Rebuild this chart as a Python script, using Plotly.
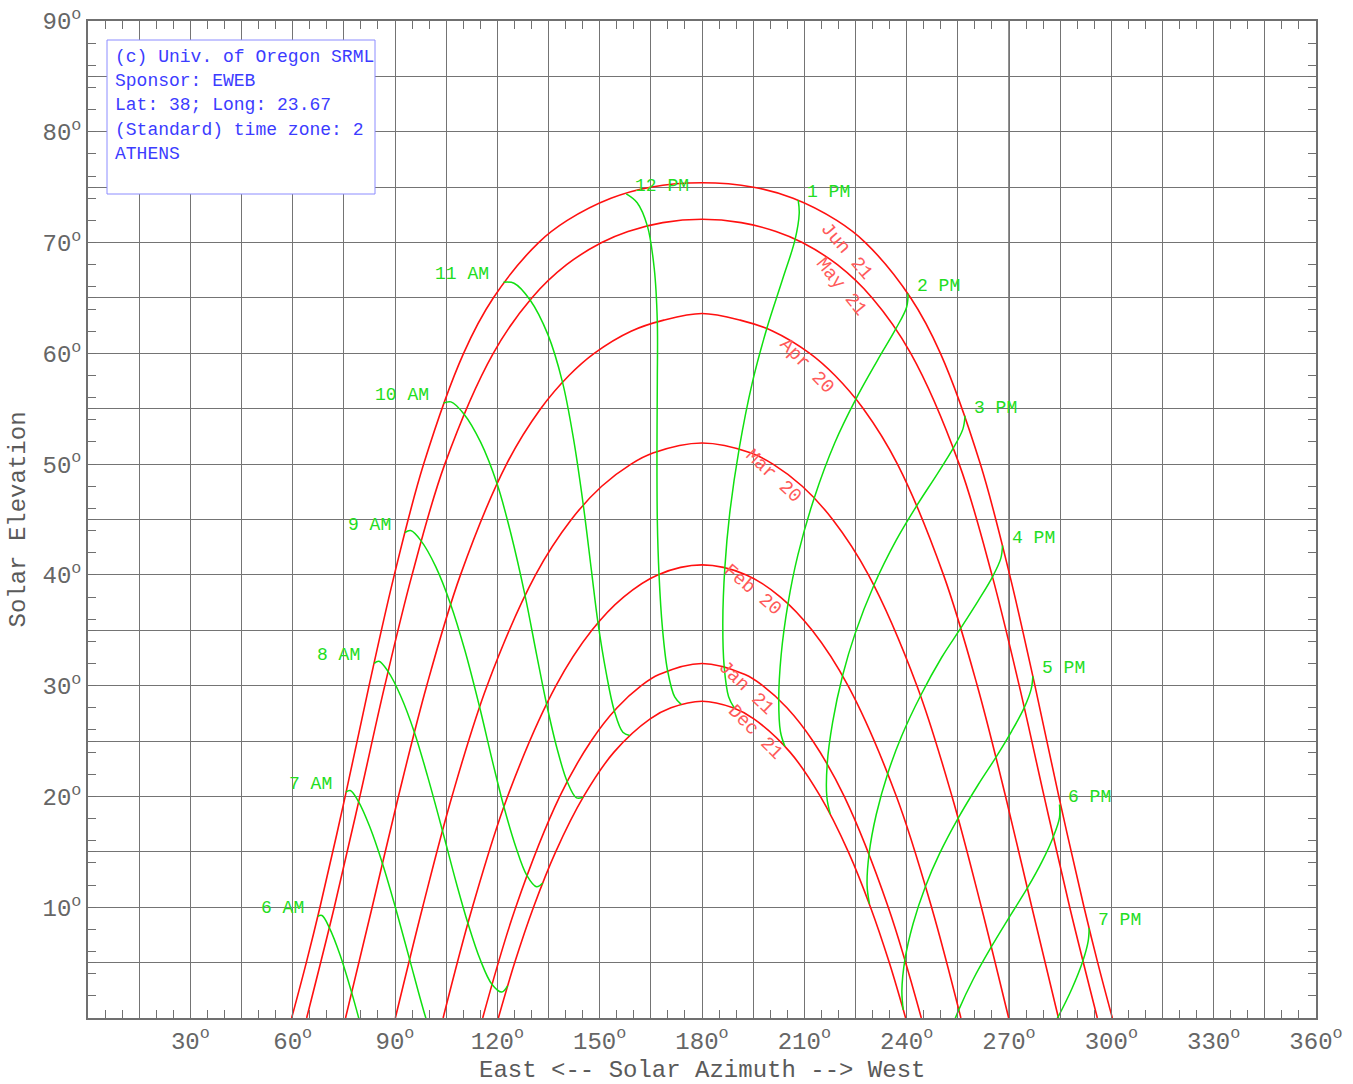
import plotly.graph_objects as go

# ---- Sun path chart data: solar azimuth (deg) / elevation (deg), lat 38, long 23.67 ----

DATE_LABELS = ["Jun 21", "May 21", "Apr 20", "Mar 20", "Feb 20", "Jan 21", "Dec 21"]

jun21_az = [59.7, 64.0, 68.0, 75.4, 82.4, 89.8, 98.4, 110.1, 118.8, 132.1, 140.5, 153.3, 164.9, 180.0,
            195.1, 206.7, 219.5, 227.9, 241.2, 249.9, 261.6, 270.2, 277.6, 284.6, 292.0, 296.0, 300.3]
jun21_el = [0, 5, 10, 20, 30, 40, 50, 60, 65, 70, 72, 74, 75, 75.4,
            75, 74, 72, 70, 65, 60, 50, 40, 30, 20, 10, 5, 0]

may21_az = [64.1, 72.2, 79.7, 87.0, 95.0, 104.6, 118.8, 130.1, 140.3, 150.6, 158.3, 168.5, 180.0,
            191.5, 201.7, 209.4, 219.7, 229.9, 241.2, 255.4, 265.0, 273.0, 280.3, 287.8, 295.9]
may21_el = [0, 10, 20, 30, 40, 50, 60, 65, 68, 70, 71, 71.8, 72.1,
            71.8, 71, 70, 68, 65, 60, 50, 40, 30, 20, 10, 0]

apr20_az = [75.5, 83.3, 91.0, 99.3, 109.2, 122.7, 132.7, 141.0, 148.4, 159.2, 168.8, 180.0,
            191.2, 200.8, 211.6, 219.0, 227.3, 237.3, 250.8, 260.7, 269.0, 276.7, 284.5]
apr20_el = [0, 10, 20, 30, 40, 50, 55, 58, 60, 62, 63, 63.6,
            63, 62, 60, 58, 55, 50, 40, 30, 20, 10, 0]

mar20_az = [90.1, 98.1, 106.7, 117.0, 131.2, 141.7, 150.6, 159.2, 165.6, 180.0,
            194.4, 200.8, 209.4, 218.3, 228.8, 243.0, 253.3, 261.9, 269.9]
mar20_el = [0, 10, 20, 30, 40, 45, 48, 50, 51, 51.9,
            51, 50, 48, 45, 40, 30, 20, 10, 0]

feb20_az = [104.1, 112.7, 123.0, 137.2, 147.7, 157.0, 167.0, 180.0,
            193.0, 203.0, 212.3, 222.8, 237.0, 247.3, 255.9]
feb20_el = [0, 10, 20, 30, 35, 38, 40, 40.9,
            40, 38, 35, 30, 20, 10, 0]

jan21_az = [115.7, 125.4, 138.3, 147.5, 155.1, 162.2, 167.4, 180.0,
            192.6, 197.8, 204.9, 212.5, 221.7, 234.6, 244.3]
jan21_el = [0, 10, 20, 25, 28, 30, 31, 32,
            31, 30, 28, 25, 20, 10, 0]

dec21_az = [120.3, 125.1, 130.6, 137.1, 145.3, 154.2, 164.8, 170.9, 180.0,
            189.1, 195.2, 205.8, 214.7, 222.9, 229.4, 234.9, 239.7]
dec21_el = [0, 5, 10, 15, 20, 24, 27, 28, 28.6,
            28, 27, 24, 20, 15, 10, 5, 0]

# label placement (az, el, rotation) for each date curve
date_label_az = [222.2, 220.8, 210.7, 200.8, 194.7, 192.9, 195.5]
date_label_el = [69.2, 66.0, 58.9, 48.9, 38.6, 29.8, 25.8]
date_label_rot = [49, 51, 46, 43, 40, 44, 45]

# Hour lines: sun position at a fixed clock time, Jun 21 -> Dec 21
HOUR_LABELS = ["6 AM", "7 AM", "8 AM", "9 AM", "10 AM", "11 AM", "12 PM",
               "1 PM", "2 PM", "3 PM", "4 PM", "5 PM", "6 PM", "7 PM"]

h6am_az = [67.4, 68.6, 70.8, 73.9, 77.3, 80.9]
h6am_el = [9.19, 9.25, 8.12, 5.69, 2.29, -1.77]

h7am_az = [75.6, 76.9, 79.3, 82.6, 86.3, 90.1, 94.3, 98.4, 101.9]
h7am_el = [20.40, 20.53, 19.53, 17.26, 13.97, 10.00, 5.27, 0.66, -2.78]

h8am_az = [83.9, 85.3, 88.0, 91.7, 95.7, 99.6, 103.9, 108.0, 111.4, 115.0, 118.4, 121.3, 123.0]
h8am_el = [32.01, 32.20, 31.27, 29.05, 25.78, 21.77, 16.93, 12.16, 8.53, 5.25, 3.05, 2.34, 2.90]

h9am_az = [92.9, 94.6, 97.7, 101.9, 106.3, 110.5, 114.8, 118.7, 121.9, 125.4, 128.6, 131.5, 133.3]
h9am_el = [43.82, 44.00, 43.05, 40.77, 37.36, 33.17, 28.07, 23.01, 19.09, 15.46, 12.90, 11.85, 12.19]

h10am_az = [104.2, 106.4, 110.2, 115.1, 119.9, 124.0, 128.1, 131.6, 134.4, 137.5, 140.5, 143.2, 145.1]
h10am_el = [55.50, 55.62, 54.53, 51.98, 48.24, 43.69, 38.17, 32.67, 28.39, 24.33, 21.33, 19.87, 19.93]

h11am_az = [121.8, 124.9, 129.6, 134.8, 139.1, 142.3, 145.2, 147.6, 149.5, 151.9, 154.3, 156.8, 158.8]
h11am_el = [66.42, 66.33, 64.82, 61.71, 57.40, 52.34, 46.31, 40.36, 35.69, 31.18, 27.72, 25.79, 25.51]

h12pm_az = [157.8, 161.0, 164.0, 166.0, 166.9, 166.9, 166.8, 166.9, 167.4, 168.4, 169.9, 172.0, 173.9]
h12pm_el = [74.40, 73.60, 71.48, 67.66, 62.84, 57.46, 51.16, 44.96, 40.05, 35.21, 31.37, 28.98, 28.31]

h1pm_az = [208.2, 208.5, 207.3, 203.6, 199.0, 194.7, 190.9, 188.1, 186.7, 186.1, 186.5, 187.8, 189.5]
h1pm_el = [73.83, 72.64, 70.29, 66.66, 62.24, 57.29, 51.40, 45.49, 40.66, 35.78, 31.74, 29.00, 27.97]

h2pm_az = [240.4, 240.0, 236.8, 231.4, 225.1, 218.9, 212.9, 208.1, 205.2, 203.2, 202.5, 203.0, 204.3]
h2pm_el = [65.39, 64.19, 62.20, 59.35, 55.87, 51.91, 46.95, 41.78, 37.39, 32.77, 28.77, 25.84, 24.52]

h3pm_az = [257.1, 256.5, 253.7, 248.9, 243.0, 236.9, 230.4, 224.9, 221.2, 218.3, 216.7, 216.6, 217.6]
h3pm_el = [54.37, 53.18, 51.46, 49.08, 46.27, 43.11, 39.06, 34.72, 30.89, 26.71, 22.92, 19.95, 18.42]

h4pm_az = [268.1, 267.6, 265.2, 261.0, 255.9, 250.2, 244.1, 238.5, 234.5, 231.1, 229.0, 228.4, 229.1]
h4pm_el = [42.65, 41.49, 39.85, 37.68, 35.21, 32.52, 29.11, 25.43, 22.12, 18.39, 14.87, 11.95, 10.30]

h5pm_az = [277.0, 276.5, 274.5, 270.8, 266.2, 261.0, 255.1, 249.6, 245.5, 241.9, 239.5, 238.6, 239.0]
h5pm_el = [30.86, 29.69, 28.04, 25.90, 23.55, 21.08, 18.04, 14.81, 11.88, 8.53, 5.29, 2.45, 0.73]

h6pm_az = [284.8, 284.8, 283.0, 279.7, 275.4, 270.5, 264.8, 259.4, 255.3, 251.4]
h6pm_el = [19.27, 18.09, 16.37, 14.14, 11.74, 9.31, 6.41, 3.43, 0.76, -2.31]

h7pm_az = [293.5, 293.2, 291.6, 288.5, 284.4, 279.7]
h7pm_el = [8.12, 6.92, 5.10, 2.69, 0.11, -2.45]

X_TICK_VALUES = [30, 60, 90, 120, 150, 180, 210, 240, 270, 300, 330, 360]
Y_TICK_VALUES = [10, 20, 30, 40, 50, 60, 70, 80, 90]

INFO_LINES = ["(c) Univ. of Oregon SRML", "Sponsor: EWEB", "Lat: 38; Long: 23.67",
              "(Standard) time zone: 2", "ATHENS"]

# ---- styling ----
RED = "#ff1010"
GREEN = "#10e010"
GRID = "#747474"
AXIS = "#707070"
LABEL_GRAY = "#666666"
MONO = "Liberation Mono, Courier New, monospace"

date_curves = [
    (jun21_az, jun21_el), (may21_az, may21_el), (apr20_az, apr20_el), (mar20_az, mar20_el),
    (feb20_az, feb20_el), (jan21_az, jan21_el), (dec21_az, dec21_el),
]
hour_curves = [
    (h6am_az, h6am_el), (h7am_az, h7am_el), (h8am_az, h8am_el), (h9am_az, h9am_el),
    (h10am_az, h10am_el), (h11am_az, h11am_el), (h12pm_az, h12pm_el), (h1pm_az, h1pm_el),
    (h2pm_az, h2pm_el), (h3pm_az, h3pm_el), (h4pm_az, h4pm_el), (h5pm_az, h5pm_el),
    (h6pm_az, h6pm_el), (h7pm_az, h7pm_el),
]

fig = go.Figure()

for name, (az, el) in zip(DATE_LABELS, date_curves):
    fig.add_trace(go.Scatter(
        x=az, y=el, mode="lines", name=name,
        line=dict(color=RED, width=1.6, shape="spline", smoothing=1.0),
        hoverinfo="skip", showlegend=False,
    ))

for name, (az, el) in zip(HOUR_LABELS, hour_curves):
    fig.add_trace(go.Scatter(
        x=az, y=el, mode="lines", name=name,
        line=dict(color=GREEN, width=1.5, shape="spline", smoothing=1.0),
        hoverinfo="skip", showlegend=False,
    ))

# empty trace that carries the overlaid fine-tick axes
fig.add_trace(go.Scatter(x=[None], y=[None], xaxis="x2", yaxis="y2", mode="lines",
                         hoverinfo="skip", showlegend=False))

annotations = []

# hour labels sit next to the Jun 21 end of each hour line
for name, (az, el) in zip(HOUR_LABELS, hour_curves):
    morning = name.endswith("AM")
    annotations.append(dict(
        x=az[0], y=el[0], xref="x", yref="y", text=name, showarrow=False,
        xanchor="right" if morning else "left", yanchor="middle",
        xshift=-12 if morning else 7, yshift=8,
        font=dict(family=MONO, size=18, color="#22dd22"),
    ))

# rotated date labels along the afternoon side of each curve
for name, lx, ly, rot in zip(DATE_LABELS, date_label_az, date_label_el, date_label_rot):
    annotations.append(dict(
        x=lx, y=ly, xref="x", yref="y", text=name, showarrow=False,
        textangle=rot, xanchor="center", yanchor="middle",
        font=dict(family=MONO, size=19, color="#ff5a5a"),
    ))

# info box text
plot_left, plot_right, plot_top, plot_bottom = 88, 1316, 21, 1018
pw, ph = plot_right - plot_left, plot_bottom - plot_top
line_y = [57, 81, 105, 130, 154]
for txt, yy in zip(INFO_LINES, line_y):
    annotations.append(dict(
        x=(113 - plot_left) / pw, y=(plot_bottom - yy) / ph, xref="paper", yref="paper",
        text=txt, showarrow=False, xanchor="left", yanchor="middle",
        font=dict(family=MONO, size=18, color="#3c3cff"),
    ))

# axis titles
annotations.append(dict(
    x=0.5, y=-(1070 - plot_bottom) / ph, xref="paper", yref="paper",
    text="East <-- Solar Azimuth --> West", showarrow=False,
    xanchor="center", yanchor="middle",
    font=dict(family=MONO, size=24, color="#5a5a5a"),
))
annotations.append(dict(
    x=-(plot_left - 18) / pw, y=0.5, xref="paper", yref="paper",
    text="Solar Elevation", showarrow=False, textangle=-90,
    xanchor="center", yanchor="middle",
    font=dict(family=MONO, size=24, color="#5a5a5a"),
))

shapes = [
    # darker meridian line at due west
    dict(type="line", xref="x", yref="paper", x0=270, x1=270, y0=0, y1=1,
         line=dict(color="#222222", width=1), layer="below"),
    # info box
    dict(type="rect", xref="paper", yref="paper",
         x0=(107 - plot_left) / pw, x1=(375 - plot_left) / pw,
         y0=(plot_bottom - 194) / ph, y1=(plot_bottom - 40) / ph,
         line=dict(color="#8c8cff", width=1), fillcolor="white", layer="above"),
]

# main axes: labelled ticks with grid, plus an unlabelled minor grid half way between
main_axis = dict(
    tickmode="array", showgrid=True, gridcolor=GRID, gridwidth=1.3, zeroline=False,
    ticks="inside", ticklen=8, tickwidth=1.3, tickcolor=AXIS,
    showline=True, linecolor=AXIS, linewidth=1.5, mirror="allticks",
    tickfont=dict(family=MONO, size=24, color=LABEL_GRAY),
    automargin=False,
)
# overlaid axes that only draw the fine tick marks
fine_axis = dict(
    tickmode="linear", tick0=0, showgrid=False, zeroline=False, showline=False,
    ticks="inside", ticklen=8, tickwidth=1.3, tickcolor=AXIS, mirror="allticks",
    showticklabels=False, automargin=False, fixedrange=True,
)

fig.update_layout(
    width=1353, height=1084,
    margin=dict(l=plot_left, r=1353 - plot_right, t=plot_top, b=1084 - plot_bottom),
    paper_bgcolor="white", plot_bgcolor="white",
    showlegend=False,
    annotations=annotations,
    shapes=shapes,
    xaxis=dict(
        range=[0, 360], tickvals=X_TICK_VALUES,
        ticktext=[f"{v}<sup>o</sup>" for v in X_TICK_VALUES],
        minor=dict(tickmode="linear", tick0=15, dtick=30, ticks="inside", ticklen=8,
                   tickwidth=1.3, tickcolor=AXIS, showgrid=True, gridcolor=GRID, gridwidth=1.3),
        **main_axis,
    ),
    yaxis=dict(
        range=[0, 90], tickvals=Y_TICK_VALUES,
        ticktext=[f"{v}<sup>o</sup>" for v in Y_TICK_VALUES],
        minor=dict(tickmode="linear", tick0=5, dtick=10, ticks="inside", ticklen=8,
                   tickwidth=1.3, tickcolor=AXIS, showgrid=True, gridcolor=GRID, gridwidth=1.3),
        **main_axis,
    ),
    xaxis2=dict(range=[0, 360], dtick=5, overlaying="x", anchor="y2", side="bottom", **fine_axis),
    yaxis2=dict(range=[0, 90], dtick=2, overlaying="y", anchor="x2", side="left", **fine_axis),
)

fig.write_html("out.html")
